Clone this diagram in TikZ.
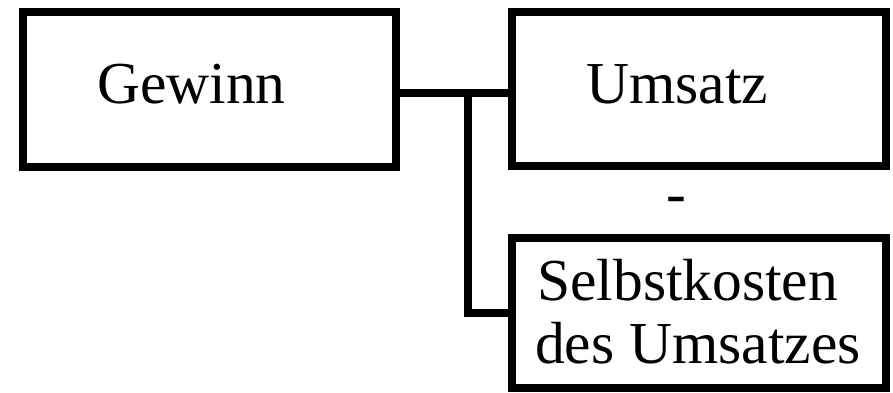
\documentclass[tikz,border=0pt]{standalone}
\usepackage{fontspec}
\setmainfont{Liberation Serif}
\begin{document}
\begin{tikzpicture}[x=1pt,y=1pt,
  box/.style={draw,line width=7.5pt,rectangle,inner sep=0pt,outer sep=0pt},
  label text/.style={inner sep=0pt,font=\fontsize{59.5}{63}\selectfont},
  link/.style={line width=8pt,line join=miter}]
  \useasboundingbox (0,0) rectangle (893,392);

  % boxes
  \node[box,minimum width=373pt,minimum height=155pt] (g) at (209.5,302.5) {};
  \node[box,minimum width=374pt,minimum height=154pt] (u) at (699,303) {};
  \node[box,minimum width=374pt,minimum height=150pt] (s) at (699,79) {};

  % texts
  \node[label text,anchor=base west] (gt) at (97,289) {Gewinn};
  \node[label text,anchor=base west] (ut) at (586,289) {Umsatz};
  \node[label text,anchor=base west] (st1) at (537,92) {Selbstkosten};
  \node[label text,anchor=base west] (st2) at (535,29) {des Umsatzes};
  \node[label text,anchor=base] (minus) at (676,179) {-};

  % connectors
  \coordinate (j) at (468,299);
  \draw[link] ([yshift=-3.5pt]g.east) -- ([yshift=-4pt]u.west);
  \draw[link] (j) |- (s.west);
\end{tikzpicture}
\end{document}
